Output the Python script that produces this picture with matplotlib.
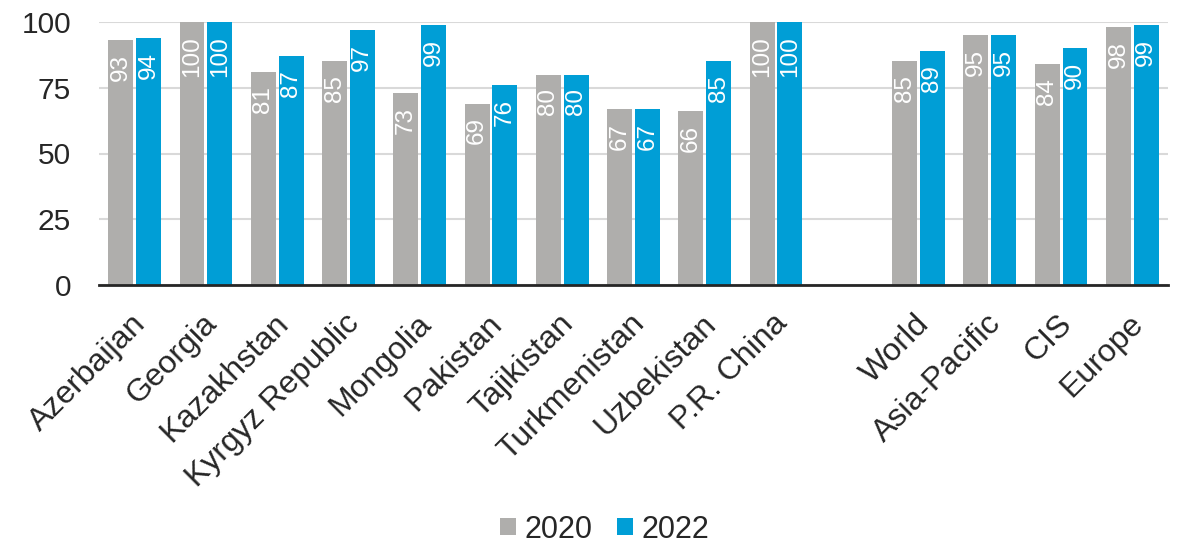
import numpy as np
import matplotlib.pyplot as plt
import matplotlib.transforms as mtransforms

plt.rcParams['font.family'] = ['Liberation Sans', 'DejaVu Sans']

countries = ["Azerbaijan", "Georgia", "Kazakhstan", "Kyrgyz Republic", "Mongolia",
             "Pakistan", "Tajikistan", "Turkmenistan", "Uzbekistan", "P.R. China",
             "World", "Asia-Pacific", "CIS", "Europe"]
vals_2020 = [93, 100, 81, 85, 73, 69, 80, 67, 66, 100, 85, 95, 84, 98]
vals_2022 = [94, 100, 87, 97, 99, 76, 80, 67, 85, 100, 89, 95, 90, 99]

c2020 = "#afaeac"
c2022 = "#009ed6"
dark = "#262626"

# leave an empty slot between the countries and the regional aggregates
x = np.arange(len(countries)) + (np.arange(len(countries)) >= 10)

fig = plt.figure(figsize=(11.78, 5.5), dpi=100)
ax = fig.add_axes([99 / 1178, 1 - 285 / 550, 1069 / 1178, 263 / 550])

w = 0.35
b1 = ax.bar(x - w / 2 - 0.02, vals_2020, w, color=c2020, label="2020", zorder=2)
b2 = ax.bar(x + w / 2 + 0.02, vals_2022, w, color=c2022, label="2022", zorder=2)

for bars, vals in [(b1, vals_2020), (b2, vals_2022)]:
    for r, v in zip(bars, vals):
        ax.annotate(str(v), (r.get_x() + r.get_width() / 2, v), xytext=(0, -10),
                    textcoords="offset points", rotation=90, ha="center", va="top",
                    color="white", fontsize=17.5, zorder=3)

ax.set_xlim(-0.5, x[-1] + 0.5)
ax.set_ylim(0, 100)
ax.set_yticks([0, 25, 50, 75, 100])
ax.yaxis.grid(True, color="#d9d9d9", linewidth=1.5, zorder=0)
ax.tick_params(axis="y", length=0, labelsize=21.5, colors=dark, pad=20)
ax.tick_params(axis="x", length=0, pad=17)
for s in ["top", "right", "left"]:
    ax.spines[s].set_visible(False)
ax.spines["bottom"].set_color(dark)
ax.spines["bottom"].set_linewidth(2)
ax.spines["bottom"].set_zorder(4)

ax.set_xticks(x)
ax.set_xticklabels(countries, rotation=45, ha="right", rotation_mode="anchor",
                   fontsize=23, color=dark)
shift = mtransforms.ScaledTranslation(-4 / 100, 0, fig.dpi_scale_trans)
for lab in ax.get_xticklabels():
    lab.set_transform(lab.get_transform() + shift)

fig.legend(handles=[b1, b2], labels=["2020", "2022"], loc="lower center",
           bbox_to_anchor=(605 / 1178, -0.04), ncol=2, frameon=False,
           fontsize=22, handlelength=0.5, handleheight=0.5, handletextpad=0.3,
           columnspacing=0.8, labelcolor=dark)

fig.savefig("out.png", dpi=100)
